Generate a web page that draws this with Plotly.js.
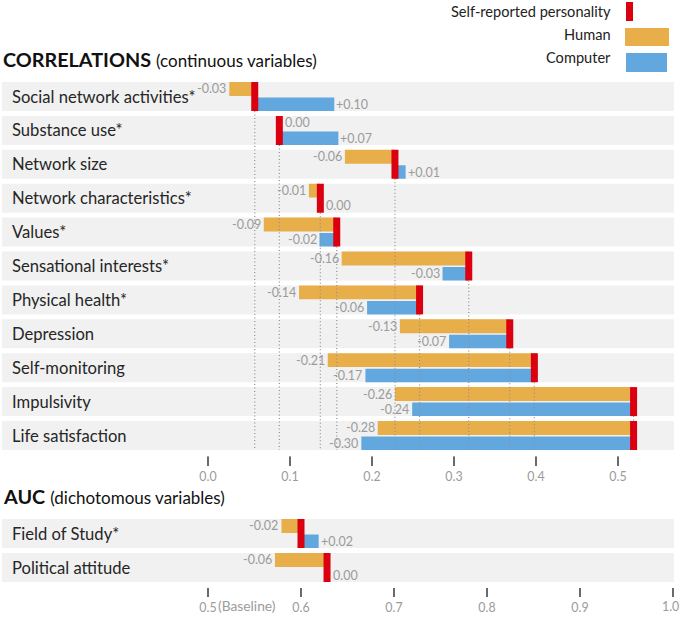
<!DOCTYPE html>
<html>
<head>
<meta charset="utf-8">
<script src="https://cdn.plot.ly/plotly-3.0.1.min.js"></script>
<style>html,body{margin:0;padding:0;background:#fff;}#chart{width:680px;height:617px;}</style>
</head>
<body>
<div id="chart"></div>
<script>
// ---- Data: correlations (continuous variables) ----
const categories = ['Social network activities*','Substance use*','Network size','Network characteristics*','Values*','Sensational interests*','Physical health*','Depression','Self-monitoring','Impulsivity','Life satisfaction'];
const selfR     = [0.057,0.087,0.228,0.137,0.157,0.318,0.258,0.368,0.398,0.519,0.519];
const humanR    = [0.026,0.087,0.167,0.123,0.068,0.163,0.111,0.234,0.146,0.228,0.207];
const computerR = [0.154,0.159,0.241,0.137,0.136,0.286,0.194,0.294,0.192,0.249,0.187];
const humanLabels    = ['-0.03','0.00','-0.06','-0.01','-0.09','-0.16','-0.14','-0.13','-0.21','-0.26','-0.28'];
const computerLabels = ['+0.10','+0.07','+0.01','0.00','-0.02','-0.03','-0.06','-0.07','-0.17','-0.24','-0.30'];
const corrTickVals = [0,0.1,0.2,0.3,0.4,0.5];
const corrTickText = ['0.0','0.1','0.2','0.3','0.4','0.5'];

// ---- Data: AUC (dichotomous variables) ----
const aucCategories = ['Field of Study*','Political attitude'];
const selfAUC     = [0.600,0.628];
const humanAUC    = [0.579,0.572];
const computerAUC = [0.619,0.628];
const humanAUCLabels    = ['-0.02','-0.06'];
const computerAUCLabels = ['+0.02','0.00'];
const aucTickVals = [0.5,0.6,0.7,0.8,0.9,1.0];
const aucTickText = ['0.5','0.6','0.7','0.8','0.9','1.0'];

// ---- Styles ----
const FONT = 'Lato, "Open Sans", sans-serif';
const ORANGE = '#E8AE4A', BLUE = '#62A8DF', RED = '#DA0010', BAND = '#F1F1F1';
const H = 617, W = 680;
const py = p => 1 - p / H;   // pixel -> paper y
const BANDHALF = 0.428;
const LABEL_GRAY = '#9b9b9b';
const TICK_GRAY = '#6a6a6a';

function panel(cats, selfV, humV, compV, humL, compL, xa, ya, dotted) {
  const idx = cats.map((_, i) => i);
  const traces = [];
  if (dotted) {
    const last = cats.length - 1;
    idx.forEach(i => {
      traces.push({type:'scatter', mode:'lines', xaxis:xa, yaxis:ya, x:[selfV[i], selfV[i]], y:[i + BANDHALF, last + BANDHALF],
        line:{color:'#8f8f8f', width:1.2, dash:'1px,2.5px'}, hoverinfo:'skip', showlegend:false});
    });
  }
  traces.push({type:'bar', orientation:'h', xaxis:xa, yaxis:ya, y:idx, base:selfV, x:idx.map(i => humV[i] - selfV[i]),
    offset:-BANDHALF, width:0.41, marker:{color:ORANGE, line:{width:0}}, name:'Human', showlegend:false, hoverinfo:'skip'});
  traces.push({type:'bar', orientation:'h', xaxis:xa, yaxis:ya, y:idx, base:selfV, x:idx.map(i => compV[i] - selfV[i]),
    offset:0.03, width:0.398, marker:{color:BLUE, line:{width:0}}, name:'Computer', showlegend:false, hoverinfo:'skip'});
  traces.push({type:'scatter', mode:'markers', xaxis:xa, yaxis:ya, x:selfV, y:idx,
    marker:{symbol:'line-ns', size:20.7, color:RED, line:{color:RED, width:7}}, name:'Self-reported personality', showlegend:false, hoverinfo:'skip'});

  const ann = [];
  const xr = xa, yr = ya;
  const lf = {family:FONT, size:12.5, color:LABEL_GRAY};
  idx.forEach(i => {
    ann.push({xref:'paper', yref:yr, x:10/W, y:i, xanchor:'left', yanchor:'middle', text:cats[i], showarrow:false,
      font:{family:FONT, size:16.6, color:'#262626'}});
    const hl = humL[i];
    if (hl.charAt(0) === '-') {
      ann.push({xref:xr, yref:yr, x:humV[i], y:i - 0.223, xanchor:'right', yanchor:'middle', text:hl, showarrow:false, xshift:-1, font:lf});
    } else {
      ann.push({xref:xr, yref:yr, x:selfV[i], y:i - 0.223, xanchor:'left', yanchor:'middle', text:hl, showarrow:false, xshift:4, font:lf});
    }
    const cl = compL[i];
    if (cl.charAt(0) === '-') {
      ann.push({xref:xr, yref:yr, x:compV[i], y:i + 0.229, xanchor:'right', yanchor:'middle', text:cl, showarrow:false, xshift:-1, font:lf});
    } else if (cl.charAt(0) === '+') {
      ann.push({xref:xr, yref:yr, x:compV[i], y:i + 0.229, xanchor:'left', yanchor:'middle', text:cl, showarrow:false, xshift:0, font:lf});
    } else {
      ann.push({xref:xr, yref:yr, x:selfV[i], y:i + 0.229, xanchor:'left', yanchor:'middle', text:cl, showarrow:false, xshift:4, font:lf});
    }
  });
  const shapes = idx.map(i => ({type:'rect', layer:'below', xref:'paper', yref:yr, x0:0.003, x1:674/W, y0:i - BANDHALF, y1:i + BANDHALF,
    fillcolor:BAND, line:{width:0}}));
  return {traces, ann, shapes};
}

const corrPanel = panel(categories, selfR, humanR, computerR, humanLabels, computerLabels, 'x', 'y', true);
const aucPanel = panel(aucCategories, selfAUC, humanAUC, computerAUC, humanAUCLabels, computerAUCLabels, 'x2', 'y2', false);

const lastAuc = aucTickVals.length - 1;
const headerAnn = [
  {xref:'paper', yref:'paper', x:1/W, y:py(59), xanchor:'left', yanchor:'middle', showarrow:false,
   text:'<b>CORRELATIONS</b> <span style="font-size:17px">(continuous variables)</span>', font:{family:FONT, size:19.8, color:'#111'}},
  {xref:'paper', yref:'paper', x:1/W, y:py(496), xanchor:'left', yanchor:'middle', showarrow:false,
   text:'<b>AUC</b> <span style="font-size:17px">(dichotomous variables)</span>', font:{family:FONT, size:19.8, color:'#111'}},
  {xref:'paper', yref:'paper', x:613/W, y:py(12), xanchor:'right', yanchor:'middle', showarrow:false, text:'Self-reported personality', font:{family:FONT, size:14.6, color:'#222'}},
  {xref:'paper', yref:'paper', x:613/W, y:py(35), xanchor:'right', yanchor:'middle', showarrow:false, text:'Human', font:{family:FONT, size:14.6, color:'#222'}},
  {xref:'paper', yref:'paper', x:613/W, y:py(58), xanchor:'right', yanchor:'middle', showarrow:false, text:'Computer', font:{family:FONT, size:14.6, color:'#222'}},
  {xref:'x2', yref:'paper', x:0.5, y:py(605), xanchor:'left', yanchor:'middle', xshift:8, showarrow:false, text:'(Baseline)', font:{family:FONT, size:13.8, color:LABEL_GRAY}},
  // last AUC tick label sits at the right edge; drawn right-aligned so it stays inside the picture
  {xref:'x2', yref:'paper', x:aucTickVals[lastAuc], y:py(606), xanchor:'right', yanchor:'middle', xshift:8, showarrow:false, text:aucTickText[lastAuc], font:{family:FONT, size:12.4, color:LABEL_GRAY}}
];
const legendShapes = [
  {type:'rect', xref:'paper', yref:'paper', x0:626/W, x1:633/W, y0:py(21), y1:py(2), fillcolor:RED, line:{width:0}},
  {type:'rect', xref:'paper', yref:'paper', x0:625/W, x1:669/W, y0:py(46), y1:py(28), fillcolor:ORANGE, line:{width:0}},
  {type:'rect', xref:'paper', yref:'paper', x0:626/W, x1:667/W, y0:py(72), y1:py(53), fillcolor:BLUE, line:{width:0}}
];
// tick marks for the correlations axis, one per tick value
const corrTickMarks = corrTickVals.map(v => ({type:'line', layer:'above', xref:'x', yref:'paper', x0:v, x1:v, y0:py(456), y1:py(465),
  line:{color:TICK_GRAY, width:1.2}}));

const axisCommon = {showgrid:false, zeroline:false, showline:true, linecolor:'rgba(255,255,255,0)', linewidth:1,
  ticks:'outside', ticklen:9, tickwidth:1.2, tickcolor:TICK_GRAY,
  tickfont:{family:FONT, size:12.4, color:LABEL_GRAY}, fixedrange:true, ticklabeloverflow:'allow', tickmode:'array'};
const hiddenY = {showgrid:false, zeroline:false, showline:false, showticklabels:false, ticks:'', fixedrange:true};

// row pitch (px per category unit) used to extend y domains down to the tick baseline
const PITCH1 = 33.9, PITCH2 = 34;
const layout = {
  width:W, height:H, margin:{l:0, r:0, t:0, b:0}, paper_bgcolor:'#fff', plot_bgcolor:'rgba(0,0,0,0)',
  barmode:'overlay', showlegend:false, font:{family:FONT},
  xaxis:Object.assign({}, axisCommon, {domain:[0,1], range:[-208/820, 472/820], anchor:'y', tickvals:corrTickVals, ticktext:corrTickText}),
  yaxis:Object.assign({}, hiddenY, {anchor:'x', domain:[py(456), py(79.55)], range:[categories.length - 0.5 + (456 - 452.45) / PITCH1, -0.5]}),
  xaxis2:Object.assign({}, axisCommon, {domain:[0,1], range:[0.5 - 208/930, 0.5 + 472/930], anchor:'y2', tickvals:aucTickVals,
    ticktext:aucTickText.map((t, i) => i === lastAuc ? '' : t)}),
  yaxis2:Object.assign({}, hiddenY, {anchor:'x2', domain:[py(587), py(516.5)], range:[aucCategories.length - 0.5 + (587 - 584.5) / PITCH2, -0.5]}),
  annotations: corrPanel.ann.concat(aucPanel.ann, headerAnn),
  shapes: corrPanel.shapes.concat(aucPanel.shapes, legendShapes, corrTickMarks)
};

Plotly.newPlot('chart', corrPanel.traces.concat(aucPanel.traces), layout, {staticPlot:true, displayModeBar:false});
</script>
</body>
</html>
